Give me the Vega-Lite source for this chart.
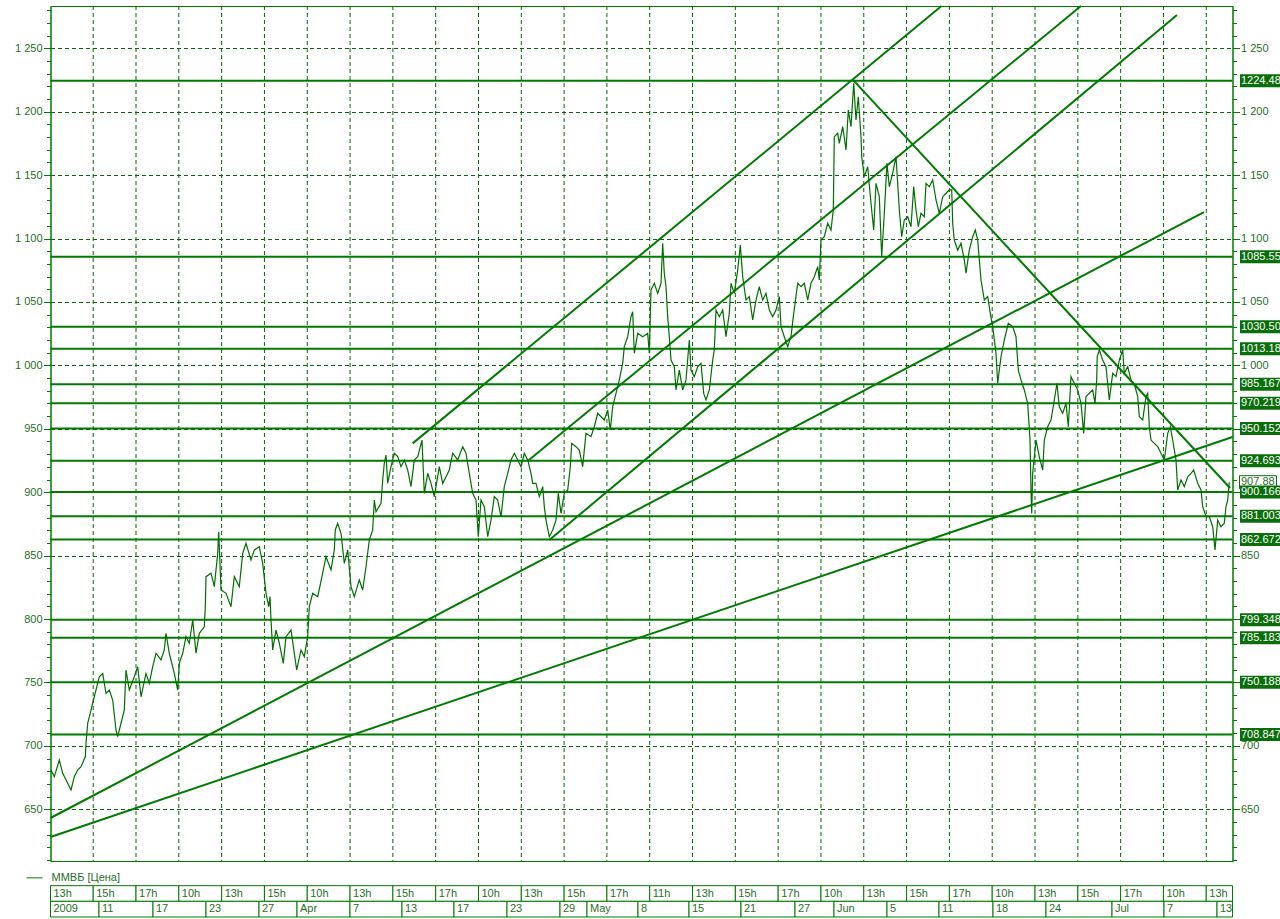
{
  "$schema": "https://vega.github.io/schema/vega-lite/v6.json",
  "background": "white",
  "padding": {"left": 13.5, "top": 3, "right": 0, "bottom": 0},
  "spacing": 4,
  "config": {
    "font": "Liberation Sans",
    "view": {"stroke": "#007a00", "strokeWidth": 1},
    "axis": {
      "labelFont": "Liberation Sans",
      "labelFontSize": 11,
      "labelColor": "#1f6f1f",
      "domainColor": "#007a00",
      "tickColor": "#007a00",
      "gridColor": "#0a640a",
      "gridDash": [4, 3],
      "gridWidth": 1
    }
  },
  "datasets": {
    "vgrid": [
      {"g":42.7},{"g":85.51},{"g":128.32},{"g":171.13},{"g":213.94},{"g":256.75},{"g":299.56},{"g":342.37},{"g":385.18},{"g":427.99},{"g":470.8},{"g":513.61},{"g":556.42},{"g":599.23},
      {"g":642.04},{"g":684.85},{"g":727.66},{"g":770.47},{"g":813.28},{"g":856.09},{"g":898.9},{"g":941.71},{"g":984.52},{"g":1027.33},{"g":1070.14},{"g":1112.95},{"g":1155.76}
    ],
    "levels": [
      {"level": 1224.482, "label": "1224.482"},
      {"level": 1085.55, "label": "1085.550"},
      {"level": 1030.5, "label": "1030.500"},
      {"level": 1013.18, "label": "1013.180"},
      {"level": 985.1672, "label": "985.1672"},
      {"level": 970.2191, "label": "970.2191"},
      {"level": 950.1527, "label": "950.1527"},
      {"level": 924.6937, "label": "924.6937"},
      {"level": 900.1665, "label": "900.1665"},
      {"level": 881.003, "label": "881.0030"},
      {"level": 862.6722, "label": "862.6722"},
      {"level": 799.348, "label": "799.3480"},
      {"level": 785.1834, "label": "785.1834"},
      {"level": 750.1884, "label": "750.1884"},
      {"level": 708.8471, "label": "708.8471"}
    ],
    "trend": [
      {"t1": 362.2, "v1": 938.5, "t2": 891, "v2": 1283.35},
      {"t1": 477.2, "v1": 924.6, "t2": 1030.5, "v2": 1283.35},
      {"t1": 498.8, "v1": 862.3, "t2": 1126.5, "v2": 1276.3},
      {"t1": 803.2, "v1": 1224.5, "t2": 1179.5, "v2": 903.3},
      {"t1": 0, "v1": 643.1, "t2": 1153.5, "v2": 1120.9},
      {"t1": 0, "v1": 628.1, "t2": 1182, "v2": 943.5}
    ],
    "current": [{"price": 907.88, "label": "907.88"}],
    "price": [
      {"i":0.5,"v":681},{"i":3.8,"v":675.7},{"i":8.8,"v":688.8},{"i":12.2,"v":678.3},{"i":17.2,"v":670.5},{"i":20.5,"v":665.2},{"i":23.8,"v":675.7},{"i":27.2,"v":680.9},{"i":30.5,"v":683.5},{"i":34.8,"v":691.4},
      {"i":35.5,"v":702},{"i":37.2,"v":717.8},{"i":40.5,"v":728.2},{"i":43.8,"v":738.7},{"i":48.8,"v":754.5},{"i":52.2,"v":757.1},{"i":55.5,"v":741.4},{"i":58.8,"v":744},{"i":62.2,"v":736.1},{"i":65.5,"v":712.5},
      {"i":67.2,"v":707.2},{"i":70.5,"v":717.8},{"i":73.8,"v":728.2},{"i":75.5,"v":759.8},{"i":78.8,"v":744},{"i":83.8,"v":754.5},{"i":87.2,"v":762.4},{"i":90.5,"v":738.7},{"i":95.5,"v":757.1},{"i":98.8,"v":749.3},
      {"i":102.2,"v":762.4},{"i":105.5,"v":773},{"i":110.5,"v":767.7},{"i":113.8,"v":775.6},{"i":115.5,"v":788.7},{"i":118.8,"v":773},{"i":123.8,"v":757.1},{"i":127.2,"v":744},{"i":128.8,"v":765},{"i":132.2,"v":773},
      {"i":135.5,"v":786.1},{"i":138.8,"v":780.9},{"i":142.2,"v":799.2},{"i":145.5,"v":773},{"i":148.8,"v":788.7},{"i":153.8,"v":793.9},{"i":154.8,"v":809.7},{"i":155.5,"v":833.4},{"i":160.5,"v":836.1},{"i":163.8,"v":825.5},
      {"i":167.2,"v":851.8},{"i":168.2,"v":868.8},{"i":170.5,"v":822.9},{"i":175.5,"v":820.3},{"i":180.5,"v":809.7},{"i":183.8,"v":833.4},{"i":188.8,"v":825.5},{"i":192.2,"v":851.8},{"i":195.5,"v":859.7},{"i":200.5,"v":846.5},
      {"i":203.8,"v":854.4},{"i":208.8,"v":857},{"i":212.2,"v":843.9},{"i":215.5,"v":820.3},{"i":218.2,"v":809.7},{"i":219.5,"v":817.6},{"i":220.5,"v":799.2},{"i":222.2,"v":775.6},{"i":225.5,"v":791.3},{"i":228.8,"v":780.9},
      {"i":232.8,"v":765},{"i":235.5,"v":786.1},{"i":240.5,"v":791.3},{"i":243.8,"v":773},{"i":246.2,"v":759.8},{"i":250.5,"v":775.6},{"i":253.8,"v":770.3},{"i":257.2,"v":786.1},{"i":258.8,"v":809.7},{"i":262.2,"v":820.3},
      {"i":267.2,"v":817.6},{"i":272.2,"v":836.1},{"i":275.5,"v":849.1},{"i":280.5,"v":838.6},{"i":283.8,"v":854.4},{"i":284.8,"v":870.2},{"i":287.2,"v":875.5},{"i":290.5,"v":867.6},{"i":293.8,"v":843.9},{"i":297.2,"v":854.4},
      {"i":300.5,"v":825.5},{"i":303.8,"v":817.6},{"i":308.8,"v":830.8},{"i":312.2,"v":822.9},{"i":315.5,"v":841.2},{"i":318.8,"v":862.3},{"i":322.2,"v":870.2},
      {"i":323.8,"v":893.8},{"i":325.5,"v":884.6},{"i":330.5,"v":891.2},{"i":332.2,"v":909.6},{"i":333.8,"v":922.8},{"i":335.5,"v":929.3},{"i":337.2,"v":907},{"i":340.5,"v":920.1},{"i":343.8,"v":930.7},{"i":347.2,"v":928},
      {"i":350.5,"v":920.1},{"i":353.8,"v":925.4},{"i":357.2,"v":917.5},{"i":360.5,"v":904.4},{"i":363.8,"v":925.4},{"i":367.2,"v":928},{"i":371.5,"v":941.1},{"i":373.8,"v":899.1},{"i":377.2,"v":914.9},{"i":380.5,"v":907},
      {"i":383.8,"v":896.5},{"i":388.8,"v":920.1},{"i":392.2,"v":907},{"i":395.5,"v":912.2},{"i":398.8,"v":917.5},{"i":402.2,"v":930.7},{"i":407.2,"v":925.4},{"i":412.2,"v":935.9},{"i":415.5,"v":930.7},{"i":418.8,"v":914.9},
      {"i":422.2,"v":899.1},{"i":425.5,"v":893.8},{"i":427.8,"v":864.9},{"i":430.5,"v":893.8},{"i":433.8,"v":888.6},{"i":437.2,"v":864.9},{"i":440.5,"v":878},{"i":443.8,"v":896.5},{"i":447.2,"v":893.8},{"i":450.5,"v":880.7},
      {"i":453.8,"v":904.4},{"i":457.2,"v":914.9},{"i":460.5,"v":925.4},{"i":463.8,"v":930.7},{"i":467.2,"v":925.4},{"i":470.5,"v":920.1},{"i":473.8,"v":930.7},{"i":477.2,"v":925.4},{"i":480.5,"v":914.9},{"i":482.2,"v":907},
      {"i":485.5,"v":907},{"i":488.8,"v":896.5},{"i":492.2,"v":904.4},{"i":493.8,"v":888.6},{"i":495.5,"v":878},{"i":498.8,"v":864.9},{"i":502.2,"v":870.2},{"i":505.5,"v":878},{"i":507.8,"v":899.1},{"i":510.5,"v":883.3},
      {"i":513.8,"v":899.1},{"i":517.2,"v":901.7},{"i":519.8,"v":920.1},{"i":521.2,"v":938.5},{"i":525.5,"v":935.9},{"i":528.8,"v":933.2},{"i":532.2,"v":920.1},{"i":533.8,"v":933.2},{"i":535.5,"v":946.4},{"i":540.5,"v":943.8},
      {"i":543.8,"v":951.6},{"i":547.2,"v":962.2},{"i":550.5,"v":959.5},{"i":553.8,"v":956.9},{"i":557.2,"v":964.8},{"i":559.8,"v":949},{"i":562.2,"v":967.4},{"i":565.5,"v":977.9},{"i":568.8,"v":988.5},{"i":572.2,"v":1001.6},
      {"i":573.8,"v":1014.8},{"i":577.2,"v":1022.6},{"i":580.5,"v":1038.4},{"i":582.2,"v":1042.3},{"i":583.8,"v":1009.5},
      {"i":587.2,"v":1025.3},{"i":592.2,"v":1022.6},{"i":597.2,"v":1025.3},{"i":598.8,"v":1009.5},{"i":600.5,"v":1059.4},{"i":603.8,"v":1064.7},{"i":607.2,"v":1056.8},{"i":610.5,"v":1064.7},{"i":612.2,"v":1096.3},{"i":613.8,"v":1072.6},
      {"i":615.5,"v":1062},{"i":617.2,"v":1038.4},{"i":618.8,"v":1022.6},{"i":620.5,"v":1004.2},{"i":623.8,"v":999},{"i":625.5,"v":980.6},{"i":628.8,"v":996.3},{"i":632.2,"v":980.6},{"i":635.5,"v":988.5},{"i":638.8,"v":1020},
      {"i":640.5,"v":996.3},{"i":643.8,"v":991.1},{"i":647.2,"v":999},{"i":650.5,"v":1001.6},{"i":653.2,"v":977.9},{"i":655.5,"v":972.7},{"i":658.8,"v":980.6},{"i":662.2,"v":1004.2},{"i":663.8,"v":1012.2},{"i":665.5,"v":1043.6},
      {"i":668.8,"v":1038.4},{"i":672.2,"v":1043.6},{"i":675.5,"v":1022.6},{"i":678.8,"v":1041},{"i":680.5,"v":1064.7},{"i":683.8,"v":1056.8},{"i":687.2,"v":1075.1},{"i":689.8,"v":1094.8},{"i":692.2,"v":1069.9},{"i":695.5,"v":1051.5},
      {"i":698.8,"v":1054.2},{"i":702.2,"v":1035.8},{"i":705.5,"v":1051.5},{"i":708.8,"v":1062},{"i":712.2,"v":1051.5},{"i":715.5,"v":1056.8},{"i":718.8,"v":1043.6},{"i":722.2,"v":1038.4},{"i":725.5,"v":1043.6},{"i":728.8,"v":1054.2},
      {"i":730.5,"v":1030.5},{"i":733.8,"v":1022.6},{"i":737.2,"v":1014.8},{"i":740.5,"v":1022.6},{"i":743.2,"v":1041},{"i":747.2,"v":1064.7},{"i":750.5,"v":1062},{"i":753.8,"v":1064.7},{"i":757.2,"v":1051.5},{"i":760.5,"v":1064.7},
      {"i":763.8,"v":1069.9},{"i":767.2,"v":1077.8},{"i":768.8,"v":1067.3},{"i":770.5,"v":1098.8},{"i":773.8,"v":1101.4},{"i":777.2,"v":1112},{"i":780.5,"v":1106.7},{"i":782.8,"v":1122.5},{"i":783.3,"v":1151.4},{"i":783.8,"v":1180.3},
      {"i":787.2,"v":1183},{"i":788.8,"v":1175.1},{"i":792.2,"v":1188.2},{"i":795.5,"v":1169.8},{"i":797.8,"v":1201.3},{"i":800.5,"v":1188.2},{"i":803.2,"v":1222.4},{"i":805.5,"v":1193.5},{"i":807.8,"v":1211.8},{"i":810.5,"v":1180.3},
      {"i":811.2,"v":1164.5},{"i":813.8,"v":1148.8},{"i":817.2,"v":1156.6},{"i":820.5,"v":1127.8},{"i":823.2,"v":1106.7},{"i":825.5,"v":1143.5},{"i":828.8,"v":1133},{"i":831.2,"v":1085.7},{"i":833.8,"v":1119.9},{"i":836.5,"v":1159.3},
      {"i":838.8,"v":1140.9},{"i":842.2,"v":1151.4},{"i":845.5,"v":1164.5},{"i":847.2,"v":1143.5},{"i":848.8,"v":1122.5},{"i":851.2,"v":1101.4},{"i":853.8,"v":1114.5},{"i":857.2,"v":1117.2},{"i":860.5,"v":1109.3},{"i":863.2,"v":1140.9},
      {"i":865.5,"v":1122.5},{"i":867.8,"v":1109.3},{"i":870.5,"v":1119.9},{"i":873.8,"v":1117.2},{"i":875.5,"v":1143.5},{"i":878.8,"v":1140.9},{"i":882.2,"v":1146.2},{"i":885.5,"v":1130.4},{"i":888.8,"v":1119.9},{"i":892.2,"v":1133},
      {"i":895.5,"v":1135.7},{"i":898.8,"v":1138.3},
      {"i":901.2,"v":1138.3},{"i":902.2,"v":1112},{"i":903.8,"v":1098.8},{"i":907.2,"v":1090.9},{"i":910.5,"v":1096.3},{"i":913.8,"v":1083.1},{"i":915.5,"v":1072.6},{"i":918.8,"v":1090.9},{"i":922.2,"v":1101.4},{"i":924.8,"v":1106.7},
      {"i":927.2,"v":1098.8},{"i":930.5,"v":1067.3},{"i":933.8,"v":1051.5},{"i":937.2,"v":1054.2},{"i":939.8,"v":1041},{"i":942.2,"v":1030.5},{"i":945.5,"v":1009.5},{"i":947.2,"v":985.9},{"i":950.5,"v":1006.8},{"i":953.8,"v":1020},
      {"i":957.8,"v":1033.2},{"i":962.2,"v":1030.5},{"i":965.5,"v":1022.6},{"i":967.8,"v":996.3},{"i":970.5,"v":988.5},{"i":973.8,"v":980.6},{"i":977.2,"v":970},{"i":979.5,"v":941.1},{"i":980.5,"v":901.7},{"i":981.2,"v":883.3},
      {"i":982.2,"v":914.9},{"i":985.5,"v":941.1},{"i":988.8,"v":927.9},{"i":992.2,"v":917.5},{"i":993.8,"v":941.1},{"i":997.2,"v":951.6},{"i":1000.5,"v":956.9},{"i":1003.8,"v":972.7},{"i":1006.5,"v":985.9},{"i":1008.8,"v":967.4},
      {"i":1012.2,"v":962.2},{"i":1015.5,"v":970},{"i":1017.8,"v":951.6},{"i":1020.5,"v":991.1},{"i":1023.8,"v":985.9},{"i":1027.2,"v":980.6},{"i":1030.5,"v":970},{"i":1033.2,"v":946.4},{"i":1035.5,"v":975.4},{"i":1038.8,"v":978},
      {"i":1042.2,"v":980.6},{"i":1044.5,"v":970},{"i":1046.2,"v":988.5},{"i":1046.7,"v":1006.8},{"i":1048.8,"v":1012.1},{"i":1052.2,"v":1004.2},{"i":1055.5,"v":999},{"i":1058.8,"v":972.7},{"i":1062.2,"v":993.7},{"i":1065.5,"v":991.1},
      {"i":1068.8,"v":1004.2},{"i":1072.2,"v":1012.1},{"i":1073.8,"v":993.7},{"i":1077.2,"v":999},{"i":1080.5,"v":988.5},{"i":1084.5,"v":983.3},{"i":1087.2,"v":975.4},{"i":1088.8,"v":959.6},{"i":1092.2,"v":956.9},{"i":1095.5,"v":975.4},
      {"i":1097.2,"v":978},{"i":1098.8,"v":951.6},{"i":1100.5,"v":941.1},{"i":1103.8,"v":938.5},{"i":1107.2,"v":935.9},{"i":1110.5,"v":930.7},{"i":1113.8,"v":925.4},{"i":1117.2,"v":946.4},{"i":1119.8,"v":951.6},{"i":1122.2,"v":941.1},
      {"i":1125.5,"v":925.4},{"i":1127.2,"v":901.7},{"i":1130.5,"v":909.6},{"i":1133.8,"v":904.4},{"i":1137.2,"v":912.2},{"i":1140.5,"v":914.9},{"i":1143.2,"v":917.5},{"i":1147.2,"v":907},{"i":1150.5,"v":901.7},{"i":1152.2,"v":888.6},
      {"i":1155.5,"v":880.7},{"i":1158.8,"v":880.7},{"i":1162.2,"v":872.8},{"i":1164.5,"v":854.4},{"i":1167.2,"v":878},{"i":1170.5,"v":872.8},{"i":1173.8,"v":875.5},{"i":1175.5,"v":888.6},{"i":1177.2,"v":893.8},{"i":1178.8,"v":907.88}
    ],
    "xboxes": [
      {"row":"hour","s":0,"e":42.7,"label":"13h"},
      {"row":"hour","s":42.7,"e":85.51,"label":"15h"},
      {"row":"hour","s":85.51,"e":128.32,"label":"17h"},
      {"row":"hour","s":128.32,"e":171.13,"label":"10h"},
      {"row":"hour","s":171.13,"e":213.94,"label":"13h"},
      {"row":"hour","s":213.94,"e":256.75,"label":"15h"},
      {"row":"hour","s":256.75,"e":299.56,"label":"10h"},
      {"row":"hour","s":299.56,"e":342.37,"label":"13h"},
      {"row":"hour","s":342.37,"e":385.18,"label":"15h"},
      {"row":"hour","s":385.18,"e":427.99,"label":"17h"},
      {"row":"hour","s":427.99,"e":470.8,"label":"10h"},
      {"row":"hour","s":470.8,"e":513.61,"label":"13h"},
      {"row":"hour","s":513.61,"e":556.42,"label":"15h"},
      {"row":"hour","s":556.42,"e":599.23,"label":"17h"},
      {"row":"hour","s":599.23,"e":642.04,"label":"11h"},
      {"row":"hour","s":642.04,"e":684.85,"label":"13h"},
      {"row":"hour","s":684.85,"e":727.66,"label":"15h"},
      {"row":"hour","s":727.66,"e":770.47,"label":"17h"},
      {"row":"hour","s":770.47,"e":813.28,"label":"10h"},
      {"row":"hour","s":813.28,"e":856.09,"label":"13h"},
      {"row":"hour","s":856.09,"e":898.9,"label":"15h"},
      {"row":"hour","s":898.9,"e":941.71,"label":"17h"},
      {"row":"hour","s":941.71,"e":984.52,"label":"10h"},
      {"row":"hour","s":984.52,"e":1027.33,"label":"13h"},
      {"row":"hour","s":1027.33,"e":1070.14,"label":"15h"},
      {"row":"hour","s":1070.14,"e":1112.95,"label":"17h"},
      {"row":"hour","s":1112.95,"e":1155.76,"label":"10h"},
      {"row":"hour","s":1155.76,"e":1182,"label":"13h"},
      {"row":"date","s":0,"e":48.5,"label":"2009"},
      {"row":"date","s":48.5,"e":102.5,"label":"11"},
      {"row":"date","s":102.5,"e":155.5,"label":"17"},
      {"row":"date","s":155.5,"e":208.5,"label":"23"},
      {"row":"date","s":208.5,"e":246.5,"label":"27"},
      {"row":"date","s":246.5,"e":299.5,"label":"Apr"},
      {"row":"date","s":299.5,"e":351.5,"label":"7"},
      {"row":"date","s":351.5,"e":403.5,"label":"13"},
      {"row":"date","s":403.5,"e":456.5,"label":"17"},
      {"row":"date","s":456.5,"e":509.5,"label":"23"},
      {"row":"date","s":509.5,"e":536.5,"label":"29"},
      {"row":"date","s":536.5,"e":587.5,"label":"May"},
      {"row":"date","s":587.5,"e":638.5,"label":"8"},
      {"row":"date","s":638.5,"e":690.5,"label":"15"},
      {"row":"date","s":690.5,"e":744.5,"label":"21"},
      {"row":"date","s":744.5,"e":783.5,"label":"27"},
      {"row":"date","s":783.5,"e":836.5,"label":"Jun"},
      {"row":"date","s":836.5,"e":888.5,"label":"5"},
      {"row":"date","s":888.5,"e":942.5,"label":"11"},
      {"row":"date","s":942.5,"e":995.5,"label":"18"},
      {"row":"date","s":995.5,"e":1061.5,"label":"24"},
      {"row":"date","s":1061.5,"e":1113.5,"label":"Jul"},
      {"row":"date","s":1113.5,"e":1166.5,"label":"7"},
      {"row":"date","s":1166.5,"e":1182,"label":"13"}
    ]
  },
  "vconcat": [
    {
      "width": 1182,
      "height": 855,
      "resolve": {"axis": {"y": "independent"}},
      "layer": [
        {
          "data": {"name": "vgrid"},
          "mark": {"type": "rule", "color": "#0a640a", "strokeWidth": 1, "strokeDash": [4, 3]},
          "encoding": {
            "x": {"field": "g", "type": "quantitative", "scale": {"domain": [0, 1182], "nice": false, "zero": false}, "axis": null}
          }
        },
        {
          "data": {"name": "levels"},
          "mark": {"type": "rule", "color": "#007a00", "strokeWidth": 2},
          "encoding": {
            "y": {
              "field": "level", "type": "quantitative",
              "scale": {"domain": [609.2, 1283.35], "nice": false, "zero": false},
              "axis": {
                "orient": "left", "title": null,
                "values": [610,620,630,640,650,660,670,680,690,700,710,720,730,740,750,760,770,780,790,800,810,820,830,840,850,860,870,880,890,900,910,920,930,940,950,960,970,980,990,1000,1010,1020,1030,1040,1050,1060,1070,1080,1090,1100,1110,1120,1130,1140,1150,1160,1170,1180,1190,1200,1210,1220,1230,1240,1250,1260,1270,1280],
                "labelExpr": "datum.value % 50 === 0 ? replace(format(datum.value, ','), ',', ' ') : ''",
                "labelOverlap": false,
                "labelPadding": 1.5,
                "tickSize": {"condition": {"test": "datum.value % 50 === 0", "value": 7}, "value": 4},
                "grid": true,
                "gridOpacity": {"condition": {"test": "datum.value % 50 === 0", "value": 1}, "value": 0}
              }
            }
          }
        },
        {
          "data": {"name": "trend"},
          "mark": {"type": "rule", "color": "#007a00", "strokeWidth": 2},
          "encoding": {
            "x": {"field": "t1", "type": "quantitative", "axis": null},
            "x2": {"field": "t2"},
            "y": {"field": "v1", "type": "quantitative", "axis": null},
            "y2": {"field": "v2"}
          }
        },
        {
          "data": {"name": "price"},
          "mark": {"type": "line", "color": "#006e00", "strokeWidth": 1.2},
          "encoding": {
            "x": {"field": "i", "type": "quantitative", "axis": null},
            "y": {
              "field": "v", "type": "quantitative",
              "axis": {
                "orient": "right", "title": null, "grid": false,
                "values": [610,620,630,640,650,660,670,680,690,700,710,720,730,740,750,760,770,780,790,800,810,820,830,840,850,860,870,880,890,900,910,920,930,940,950,960,970,980,990,1000,1010,1020,1030,1040,1050,1060,1070,1080,1090,1100,1110,1120,1130,1140,1150,1160,1170,1180,1190,1200,1210,1220,1230,1240,1250,1260,1270,1280],
                "labelExpr": "datum.value % 50 === 0 && datum.value !== 750 && datum.value !== 800 && datum.value !== 900 && datum.value !== 950 ? replace(format(datum.value, ','), ',', ' ') : ''",
                "labelOverlap": false,
                "labelPadding": 1,
                "tickSize": {"condition": {"test": "datum.value % 50 === 0", "value": 7}, "value": 4}
              }
            }
          }
        },
        {
          "data": {"name": "current"},
          "mark": {"type": "tick", "orient": "horizontal", "size": 37, "thickness": 13, "fill": "white", "stroke": "#0a6e0a", "strokeWidth": 1, "opacity": 1},
          "encoding": {
            "x": {"datum": 1207.5, "type": "quantitative", "axis": null},
            "y": {"field": "price", "type": "quantitative", "axis": null}
          }
        },
        {
          "data": {"name": "current"},
          "mark": {"type": "text", "align": "left", "baseline": "middle", "dx": 1, "fontSize": 11, "color": "#1f6f1f"},
          "encoding": {
            "x": {"datum": 1189.5, "type": "quantitative", "axis": null},
            "y": {"field": "price", "type": "quantitative", "axis": null},
            "text": {"field": "label"}
          }
        },
        {
          "data": {"name": "levels"},
          "mark": {"type": "tick", "orient": "horizontal", "size": 41, "thickness": 13, "fill": "#0a6e0a", "opacity": 1},
          "encoding": {
            "x": {"datum": 1210, "type": "quantitative", "axis": null},
            "y": {"field": "level", "type": "quantitative", "axis": null}
          }
        },
        {
          "data": {"name": "levels"},
          "mark": {"type": "text", "align": "left", "baseline": "middle", "dx": 1, "fontSize": 11, "color": "white", "limit": 41, "ellipsis": "\u200b"},
          "encoding": {
            "x": {"datum": 1189.5, "type": "quantitative", "axis": null},
            "y": {"field": "level", "type": "quantitative", "axis": null},
            "text": {"field": "label"}
          }
        }
      ]
    },
    {
      "width": 1182,
      "height": 47,
      "view": {"stroke": null},
      "layer": [
        {
          "data": {"name": "xboxes"},
          "mark": {"type": "rect", "fill": "white", "stroke": "#007a00", "strokeWidth": 1},
          "encoding": {
            "x": {"field": "s", "type": "quantitative", "scale": {"domain": [0, 1182], "nice": false, "zero": false}, "axis": null},
            "x2": {"field": "e"},
            "y": {"field": "row", "type": "nominal", "scale": {"domain": ["legend", "hour", "date"], "paddingInner": 0, "paddingOuter": 0}, "axis": null}
          }
        },
        {
          "data": {"name": "xboxes"},
          "mark": {"type": "text", "align": "left", "baseline": "middle", "dx": 3, "fontSize": 11, "color": "#1f6f1f"},
          "encoding": {
            "x": {"field": "s", "type": "quantitative"},
            "y": {"field": "row", "type": "nominal"},
            "text": {"field": "label"}
          }
        },
        {
          "data": {"values": [{"row": "legend", "label": "ММВБ [Цена]"}]},
          "mark": {"type": "text", "align": "left", "baseline": "middle", "dx": 1, "fontSize": 11, "color": "#1f6f1f"},
          "encoding": {
            "x": {"datum": 0, "type": "quantitative"},
            "y": {"field": "row", "type": "nominal"},
            "text": {"field": "label"}
          }
        },
        {
          "data": {"values": [{"row": "legend"}]},
          "mark": {"type": "rule", "color": "#007a00", "strokeWidth": 1},
          "encoding": {
            "x": {"datum": -24, "type": "quantitative"},
            "x2": {"datum": -8},
            "y": {"field": "row", "type": "nominal"}
          }
        }
      ]
    }
  ]
}
